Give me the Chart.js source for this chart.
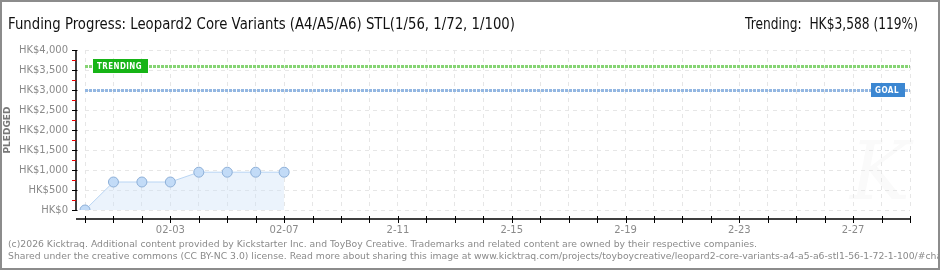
<!DOCTYPE html>
<html>
<head>
<meta charset="utf-8">
<script src="https://cdn.jsdelivr.net/npm/chart.js@4/dist/chart.umd.min.js"></script>
<style>
  html, body { margin: 0; padding: 0; background: #fff; }
  #wrap { width: 940px; height: 270px; }
</style>
</head>
<body>
<div id="wrap"><canvas id="myChart" width="940" height="270"></canvas></div>
<script>
// days on the x axis (01-31 .. 03-01)
var dates = ["01-31", "02-01", "02-02", "02-03", "02-04", "02-05", "02-06", "02-07", "02-08", "02-09",
             "02-10", "02-11", "02-12", "02-13", "02-14", "02-15", "02-16", "02-17", "02-18", "02-19",
             "02-20", "02-21", "02-22", "02-23", "02-24", "02-25", "02-26", "02-27", "02-28", "03-01"];
// pledged so far (HK$)
var pledged = [0, 700, 700, 700, 945, 945, 945, 945];
var goal = 3000;
var trending = 3588;
var xTickLabels = ["02-03", "02-07", "2-11", "2-15", "2-19", "2-23", "2-27"];
var yTickLabels = ["HK$0", "HK$500", "HK$1,000", "HK$1,500", "HK$2,000", "HK$2,500", "HK$3,000", "HK$3,500", "HK$4,000"];

var title = "Funding Progress: Leopard2 Core Variants (A4/A5/A6) STL(1/56, 1/72, 1/100)";
var trendText = "Trending:  HK$3,588 (119%)";
var footer1 = "(c)2026 Kicktraq. Additional content provided by Kickstarter Inc. and ToyBoy Creative. Trademarks and related content are owned by their respective companies.";
var footer2 = "Shared under the creative commons (CC BY-NC 3.0) license. Read more about sharing this image at www.kicktraq.com/projects/toyboycreative/leopard2-core-variants-a4-a5-a6-stl1-56-1-72-1-100/#chart";

function tag(ctx, text, x, y, w, color) {
	ctx.fillStyle = color;
	ctx.fillRect(x, y - 7, w, 14);
	ctx.fillStyle = "#fff";
	ctx.font = "bold 8px 'DejaVu Sans'";
	ctx.letterSpacing = "0.5px";
	ctx.textAlign = "left";
	ctx.textBaseline = "middle";
	ctx.fillText(text, x + 4, y + 0.5, w - 10);
	ctx.letterSpacing = "0px";
}

var kicktraq = {
	id: "kicktraq",
	beforeDraw: function(chart) {
		var ctx = chart.ctx;
		ctx.save();
		ctx.fillStyle = "#fff";
		ctx.fillRect(0, 0, chart.width, chart.height);
		// faint watermark
		ctx.fillStyle = "#fafafa";
		ctx.font = "italic 80px 'DejaVu Serif'";
		ctx.textAlign = "center";
		ctx.textBaseline = "middle";
		ctx.fillText("K", 880, 178);
		ctx.restore();
	},
	beforeDatasetsDraw: function(chart) {
		var ctx = chart.ctx, a = chart.chartArea, y = chart.scales.y;
		ctx.save();
		ctx.lineWidth = 3;
		ctx.setLineDash([3, 1]);
		ctx.strokeStyle = "#86d474";
		var ty = Math.round(y.getPixelForValue(trending)) + 0.5;
		ctx.beginPath(); ctx.moveTo(a.left, ty); ctx.lineTo(a.right, ty); ctx.stroke();
		ctx.strokeStyle = "#93b7e2";
		var gy = Math.round(y.getPixelForValue(goal)) + 0.5;
		ctx.beginPath(); ctx.moveTo(a.left, gy); ctx.lineTo(a.right, gy); ctx.stroke();
		ctx.restore();
	},
	afterDraw: function(chart) {
		var ctx = chart.ctx, a = chart.chartArea, xs = chart.scales.x, ys = chart.scales.y;
		ctx.save();
		// axes, offset from the plot area
		var ax = a.left - 9, ay = a.bottom + 9;
		ctx.strokeStyle = "#000";
		ctx.lineWidth = 1.5;
		ctx.setLineDash([]);
		ctx.beginPath();
		ctx.moveTo(ax, a.top); ctx.lineTo(ax, a.bottom);
		ctx.moveTo(ax, ay); ctx.lineTo(a.right, ay);
		ctx.stroke();
		ctx.lineWidth = 1;
		for (var v = 0; v <= 4000; v += 250) {
			var py = Math.round(ys.getPixelForValue(v)) + 0.5;
			ctx.strokeStyle = v % 500 === 0 ? "#000" : "#e00";
			ctx.beginPath();
			ctx.moveTo(ax - 4, py);
			ctx.lineTo(v % 500 === 0 ? ax + 1.5 : ax, py);
			ctx.stroke();
		}
		ctx.strokeStyle = "#000";
		for (var i = 0; i < dates.length; i++) {
			var px = Math.round(xs.getPixelForValue(i)) + 0.5;
			ctx.beginPath(); ctx.moveTo(px, ay - 3); ctx.lineTo(px, ay + 4); ctx.stroke();
		}
		// line tags
		tag(ctx, "TRENDING", a.left + 8, Math.round(ys.getPixelForValue(trending)), 55, "#16b416");
		tag(ctx, "GOAL", a.right - 39, Math.round(ys.getPixelForValue(goal)), 34, "#3b87d2");
		// header
		ctx.fillStyle = "#111";
		ctx.textBaseline = "alphabetic";
		ctx.font = "15px 'DejaVu Sans'";
		ctx.textAlign = "left";
		ctx.fillText(title, 8, 29, 507);
		ctx.textAlign = "right";
		ctx.fillText(trendText, 918, 29, 173);
		// footer
		ctx.fillStyle = "#8a8a8a";
		ctx.font = "9px 'DejaVu Sans'";
		ctx.textAlign = "left";
		var sx = 749 / ctx.measureText(footer1).width;
		ctx.translate(8, 0);
		ctx.scale(sx, 1);
		ctx.fillText(footer1, 0, 246.5);
		ctx.fillText(footer2, 0, 258.5);
		ctx.restore();
		// border
		ctx.save();
		ctx.strokeStyle = "#8c8c8c";
		ctx.lineWidth = 2;
		ctx.strokeRect(1, 1, chart.width - 2, chart.height - 2);
		ctx.restore();
	}
};

var ctx = document.getElementById("myChart").getContext("2d");
var myChart = new Chart(ctx, {
	type: "line",
	data: {
		labels: dates,
		datasets: [{
			data: pledged,
			borderColor: "#b9d5f3",
			borderWidth: 1,
			backgroundColor: "rgba(205,225,248,0.4)",
			fill: "origin",
			tension: 0,
			pointRadius: 5,
			pointBackgroundColor: "#c2dbf7",
			pointBorderColor: "#8eb0d8",
			pointBorderWidth: 1
		}]
	},
	options: {
		responsive: false,
		animation: false,
		events: [],
		layout: { padding: { left: 0, top: 50, right: 30, bottom: 30 } },
		plugins: { legend: { display: false }, tooltip: { enabled: false } },
		scales: {
			x: {
				afterFit: function(scale) { scale.height = 30; },
				grid: { color: "#e6e6e6", drawTicks: false },
				border: { display: false, dash: [4, 4] },
				ticks: {
					autoSkip: false,
					maxRotation: 0,
					padding: 14,
					color: "#8a8a8a",
					font: { family: "'DejaVu Sans'", size: 10 },
					callback: function(val, i) {
						return (i - 3) % 4 === 0 && i >= 3 ? xTickLabels[(i - 3) / 4] : "";
					}
				}
			},
			y: {
				min: 0,
				max: 4000,
				afterFit: function(scale) { scale.width = 85; },
				grid: { color: "#e6e6e6", drawTicks: false },
				border: { display: false, dash: [4, 4] },
				title: {
					display: true,
					text: "PLEDGED",
					color: "#777",
					font: { family: "'DejaVu Sans'", size: 9, weight: "bold" },
					padding: { top: 2, bottom: 0 }
				},
				ticks: {
					stepSize: 500,
					padding: 17,
					color: "#8a8a8a",
					font: { family: "'DejaVu Sans'", size: 10 },
					callback: function(val, i) { return yTickLabels[i]; }
				}
			}
		}
	},
	plugins: [kicktraq]
});
</script>
</body>
</html>
